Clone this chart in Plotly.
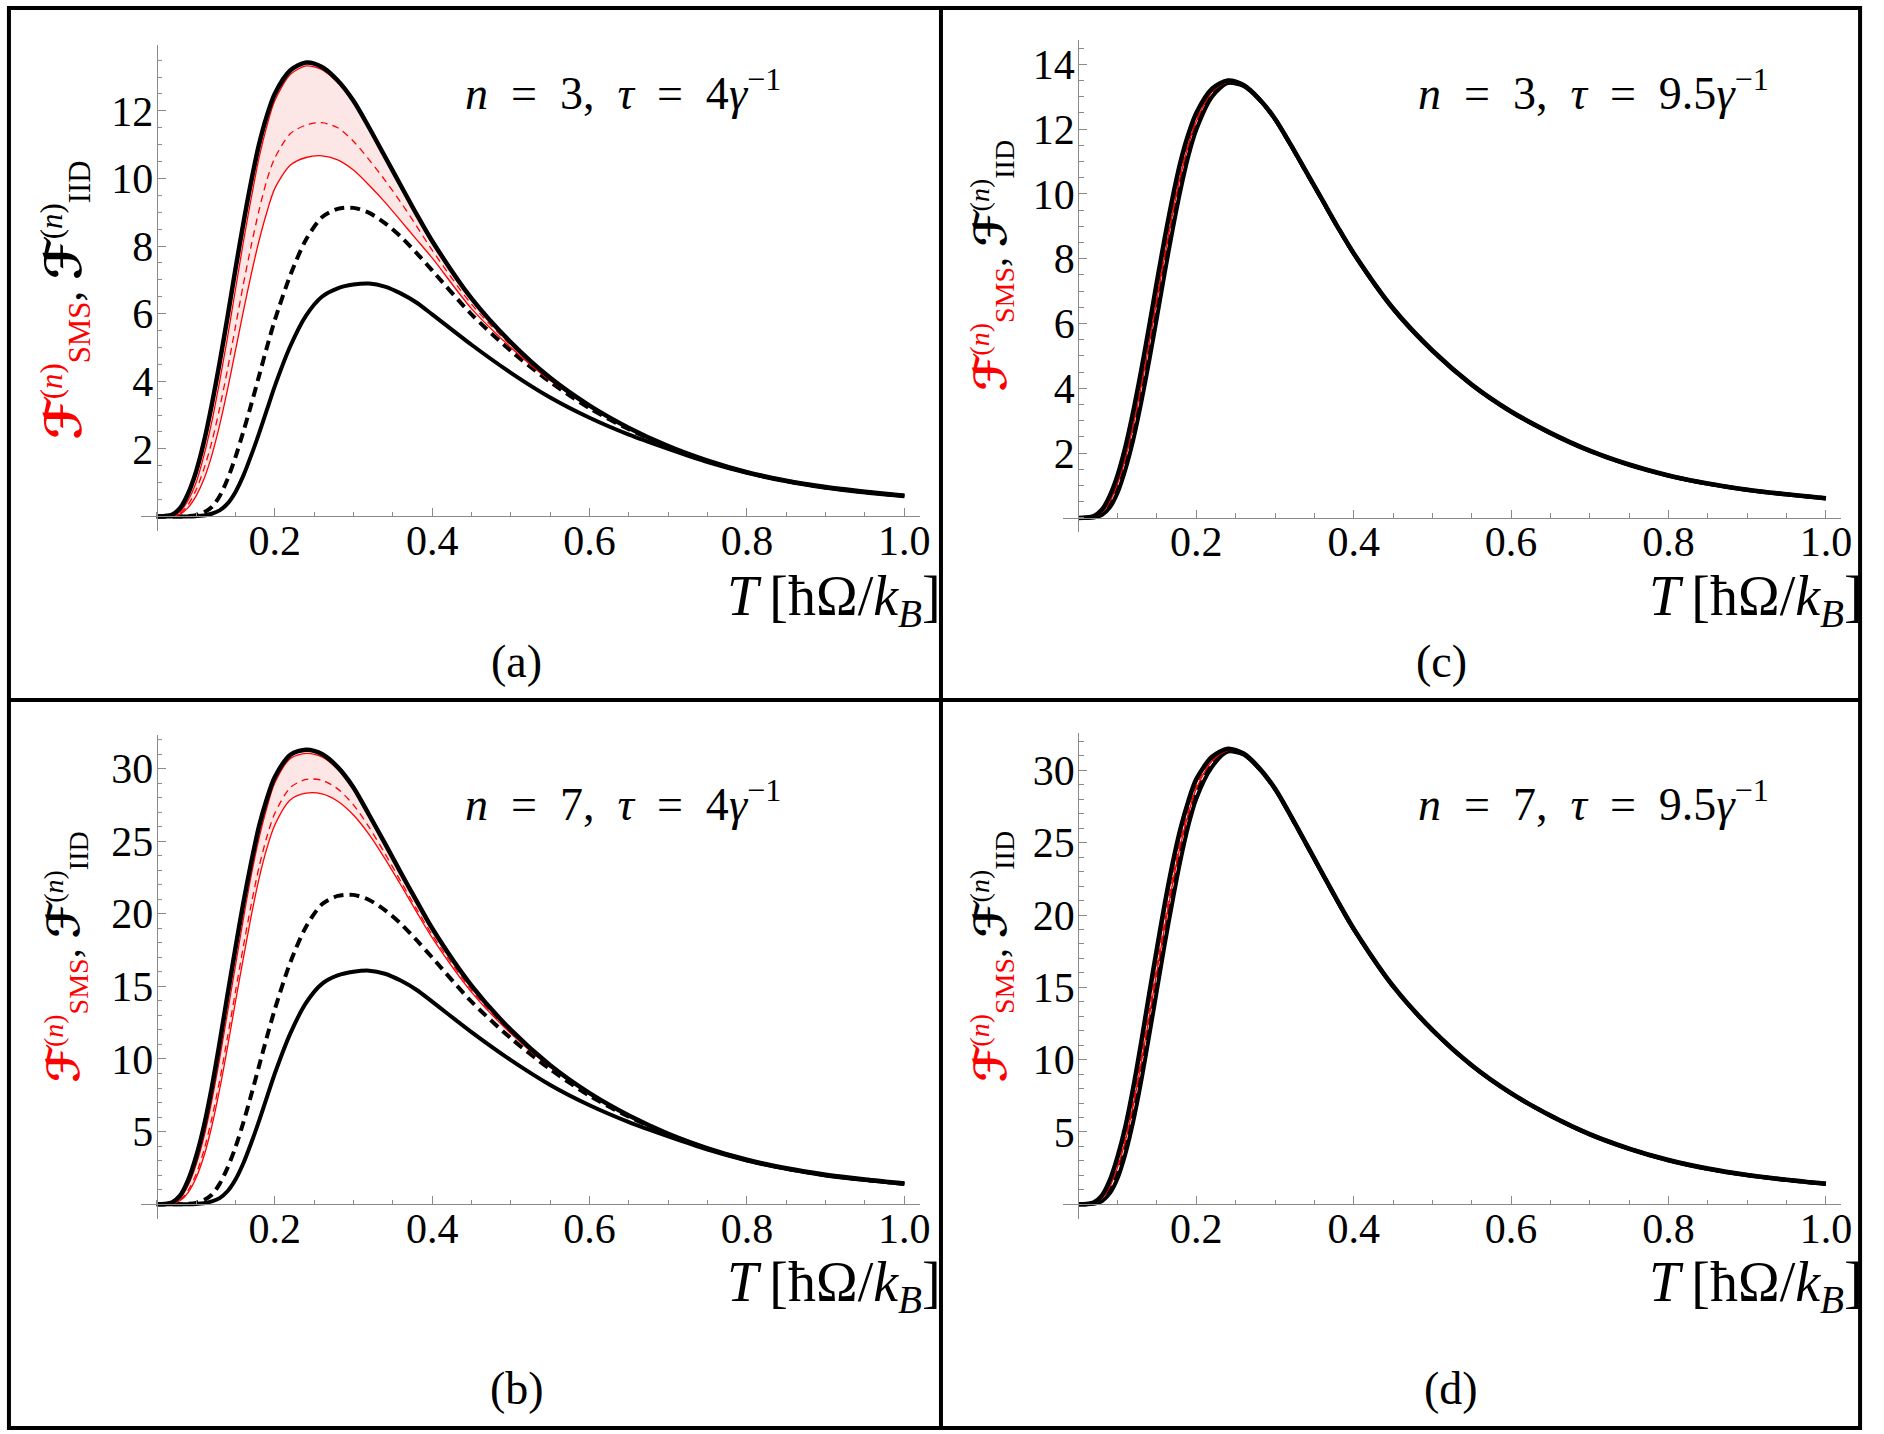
import plotly.graph_objects as go

# ---------------- data ----------------
T = [0.05, 0.06, 0.07, 0.08, 0.09, 0.10, 0.11, 0.12, 0.13, 0.14, 0.15, 0.16, 0.17, 0.18, 0.19, 0.20,
     0.22, 0.24, 0.26, 0.28, 0.30, 0.32, 0.34, 0.36, 0.38, 0.40,
     0.45, 0.50, 0.55, 0.60, 0.65, 0.70, 0.75, 0.80, 0.85, 0.90, 0.95, 1.00]

# panel (a): n = 3, tau = 4/gamma
a_black_upper = [0, 0.01, 0.06, 0.25, 0.68, 1.32, 2.2, 3.3, 4.55, 5.9, 7.3, 8.65, 9.9, 11.0, 11.85, 12.5,
                 13.2, 13.43, 13.3, 12.9, 12.3, 11.5, 10.65, 9.8, 8.95, 8.15,
                 6.45, 5.15, 4.1, 3.28, 2.62, 2.08, 1.65, 1.31, 1.06, 0.87, 0.73, 0.61]
a_red_upper = [0, 0.0, 0.03, 0.15, 0.48, 1.0, 1.8, 2.8, 4.0, 5.3, 6.7, 8.1, 9.4, 10.6, 11.55, 12.3,
               13.08, 13.33, 13.22, 12.84, 12.25, 11.46, 10.61, 9.77, 8.92, 8.12,
               6.43, 5.14, 4.1, 3.28, 2.62, 2.08, 1.65, 1.31, 1.06, 0.87, 0.73, 0.61]
a_red_dashed = [0, 0.0, 0.02, 0.1, 0.35, 0.78, 1.4, 2.2, 3.2, 4.35, 5.6, 6.85, 8.0, 9.05, 9.95, 10.6,
                11.33, 11.58, 11.65, 11.5, 11.1, 10.55, 9.95, 9.3, 8.6, 7.88,
                6.28, 5.07, 4.06, 3.26, 2.61, 2.07, 1.65, 1.31, 1.06, 0.87, 0.73, 0.61]
a_red_lower = [0, 0.0, 0.01, 0.07, 0.26, 0.6, 1.1, 1.8, 2.7, 3.75, 4.9, 6.05, 7.15, 8.15, 9.0, 9.7,
               10.4, 10.62, 10.67, 10.55, 10.25, 9.8, 9.3, 8.75, 8.2, 7.65,
               6.15, 5.0, 4.02, 3.24, 2.6, 2.07, 1.64, 1.31, 1.06, 0.87, 0.73, 0.61]
a_black_dashed = [0, 0, 0, 0, 0.01, 0.04, 0.12, 0.28, 0.6, 1.1, 1.75, 2.5, 3.3, 4.15, 5.0, 5.8,
                  7.15, 8.2, 8.85, 9.1, 9.13, 8.98, 8.68, 8.28, 7.8, 7.28,
                  5.98, 4.9, 3.98, 3.2, 2.58, 2.06, 1.64, 1.3, 1.05, 0.86, 0.72, 0.61]
a_black_lower = [0, 0, 0, 0, 0, 0.01, 0.03, 0.08, 0.18, 0.38, 0.72, 1.2, 1.8, 2.45, 3.15, 3.85,
                 5.05, 5.95, 6.5, 6.75, 6.86, 6.89, 6.8, 6.6, 6.33, 5.98,
                 5.08, 4.25, 3.52, 2.92, 2.42, 2.0, 1.61, 1.29, 1.04, 0.85, 0.71, 0.6]

# panel (b): n = 7, tau = 4/gamma
b_black_upper = [0, 0.02, 0.14, 0.6, 1.65, 3.25, 5.35, 8.0, 11.1, 14.4, 17.6, 20.7, 23.5, 26.0, 27.9, 29.4,
                 30.95, 31.3, 31.0, 30.1, 28.7, 26.8, 24.85, 22.85, 20.9, 19.0,
                 15.05, 12.0, 9.57, 7.65, 6.11, 4.85, 3.85, 3.06, 2.47, 2.03, 1.7, 1.42]
b_red_upper = [0, 0.01, 0.1, 0.45, 1.3, 2.7, 4.6, 7.1, 10.0, 13.2, 16.4, 19.6, 22.6, 25.2, 27.3, 29.0,
               30.7, 31.05, 30.8, 29.95, 28.55, 26.7, 24.75, 22.75, 20.8, 18.9,
               14.98, 11.95, 9.53, 7.63, 6.1, 4.84, 3.85, 3.06, 2.47, 2.03, 1.7, 1.42]
b_red_dashed = [0, 0.01, 0.06, 0.3, 0.95, 2.05, 3.7, 5.9, 8.5, 11.5, 14.6, 17.7, 20.6, 23.2, 25.3, 26.9,
                28.7, 29.25, 29.2, 28.6, 27.5, 25.95, 24.15, 22.25, 20.35, 18.55,
                14.75, 11.82, 9.47, 7.6, 6.09, 4.84, 3.84, 3.05, 2.46, 2.02, 1.69, 1.42]
b_red_lower = [0, 0.0, 0.05, 0.25, 0.8, 1.8, 3.3, 5.35, 7.9, 10.8, 13.9, 16.9, 19.8, 22.4, 24.5, 26.1,
               27.85, 28.3, 28.25, 27.75, 26.8, 25.45, 23.8, 22.0, 20.15, 18.35,
               14.6, 11.75, 9.43, 7.58, 6.08, 4.83, 3.84, 3.05, 2.46, 2.02, 1.69, 1.42]
b_black_dashed = [0, 0, 0, 0, 0.02, 0.09, 0.28, 0.65, 1.4, 2.5, 3.9, 5.6, 7.5, 9.5, 11.5, 13.4,
                  16.68, 19.13, 20.65, 21.23, 21.3, 20.95, 20.25, 19.32, 18.2, 16.99,
                  13.95, 11.43, 9.29, 7.47, 6.02, 4.81, 3.83, 3.03, 2.45, 2.0, 1.68, 1.41]
b_black_lower = [0, 0, 0, 0, 0, 0.02, 0.07, 0.19, 0.42, 0.89, 1.68, 2.8, 4.2, 5.72, 7.35, 8.98,
                 11.78, 13.88, 15.17, 15.75, 16.0, 16.08, 15.87, 15.4, 14.77, 13.95,
                 11.85, 9.92, 8.21, 6.81, 5.65, 4.67, 3.76, 3.01, 2.43, 1.98, 1.66, 1.4]

# panel (c): n = 3, tau = 9.5/gamma
c_black_upper = [0, 0.01, 0.06, 0.25, 0.68, 1.32, 2.2, 3.3, 4.55, 5.9, 7.3, 8.65, 9.9, 11.0, 11.85, 12.5,
                 13.25, 13.5, 13.36, 12.93, 12.32, 11.52, 10.67, 9.82, 8.97, 8.17,
                 6.47, 5.17, 4.12, 3.29, 2.63, 2.08, 1.65, 1.31, 1.06, 0.87, 0.73, 0.61]
c_red_upper = [0, 0.01, 0.05, 0.22, 0.61, 1.2, 2.05, 3.12, 4.35, 5.7, 7.08, 8.45, 9.72, 10.85, 11.73, 12.42,
               13.2, 13.47, 13.34, 12.92, 12.31, 11.51, 10.66, 9.81, 8.96, 8.16,
               6.46, 5.16, 4.11, 3.28, 2.62, 2.07, 1.64, 1.31, 1.06, 0.87, 0.73, 0.61]
c_red_dashed = [0, 0.005, 0.04, 0.19, 0.55, 1.12, 1.94, 2.98, 4.18, 5.5, 6.88, 8.25, 9.55, 10.7, 11.62, 12.32,
                13.17, 13.46, 13.34, 12.92, 12.31, 11.51, 10.66, 9.81, 8.96, 8.16,
                6.46, 5.16, 4.11, 3.28, 2.62, 2.07, 1.64, 1.31, 1.06, 0.87, 0.73, 0.61]
c_red_lower = [0, 0.005, 0.035, 0.17, 0.5, 1.06, 1.85, 2.86, 4.05, 5.36, 6.74, 8.1, 9.4, 10.56, 11.51, 12.24,
               13.15, 13.45, 13.34, 12.92, 12.31, 11.51, 10.66, 9.81, 8.96, 8.16,
               6.46, 5.16, 4.11, 3.28, 2.62, 2.07, 1.64, 1.31, 1.06, 0.87, 0.73, 0.61]
c_black_dashed = [0, 0.002, 0.025, 0.13, 0.41, 0.92, 1.67, 2.64, 3.8, 5.09, 6.46, 7.84, 9.15, 10.34, 11.34, 12.1,
                  13.08, 13.44, 13.34, 12.92, 12.31, 11.51, 10.66, 9.81, 8.96, 8.16,
                  6.46, 5.16, 4.11, 3.28, 2.62, 2.07, 1.64, 1.31, 1.06, 0.87, 0.73, 0.61]
c_black_lower = [0, 0, 0.015, 0.09, 0.32, 0.78, 1.5, 2.42, 3.55, 4.82, 6.18, 7.57, 8.9, 10.12, 11.17, 11.98,
                 13.0, 13.42, 13.33, 12.91, 12.3, 11.5, 10.65, 9.8, 8.95, 8.15,
                 6.45, 5.15, 4.1, 3.27, 2.61, 2.06, 1.63, 1.3, 1.05, 0.86, 0.72, 0.6]

# panel (d): n = 7, tau = 9.5/gamma
d_black_upper = [0, 0.02, 0.14, 0.6, 1.65, 3.3, 5.4, 8.1, 11.2, 14.5, 17.7, 20.8, 23.6, 26.0, 27.9, 29.4,
                 30.95, 31.5, 31.17, 30.17, 28.75, 26.88, 24.9, 22.91, 20.93, 19.06,
                 15.1, 12.06, 9.61, 7.68, 6.14, 4.85, 3.85, 3.06, 2.47, 2.03, 1.7, 1.42]
d_red_upper = [0, 0.02, 0.12, 0.52, 1.48, 3.0, 5.0, 7.6, 10.6, 13.9, 17.1, 20.2, 23.1, 25.6, 27.6, 29.2,
               30.85, 31.45, 31.12, 30.13, 28.72, 26.85, 24.87, 22.88, 20.9, 19.03,
               15.07, 12.04, 9.6, 7.67, 6.13, 4.84, 3.84, 3.05, 2.46, 2.02, 1.69, 1.41]
d_red_dashed = [0, 0.01, 0.09, 0.45, 1.32, 2.75, 4.65, 7.15, 10.1, 13.3, 16.5, 19.6, 22.6, 25.2, 27.3, 28.95,
                30.75, 31.4, 31.12, 30.13, 28.72, 26.85, 24.87, 22.88, 20.9, 19.03,
                15.07, 12.04, 9.6, 7.67, 6.13, 4.84, 3.84, 3.05, 2.46, 2.02, 1.69, 1.41]
d_red_lower = [0, 0.01, 0.08, 0.4, 1.2, 2.55, 4.4, 6.85, 9.75, 12.9, 16.1, 19.2, 22.2, 24.85, 27.0, 28.75,
               30.65, 31.38, 31.12, 30.13, 28.72, 26.85, 24.87, 22.88, 20.9, 19.03,
               15.07, 12.04, 9.6, 7.67, 6.13, 4.84, 3.84, 3.05, 2.46, 2.02, 1.69, 1.41]
d_black_dashed = [0, 0.005, 0.06, 0.3, 0.98, 2.2, 3.95, 6.3, 9.1, 12.2, 15.4, 18.6, 21.6, 24.4, 26.6, 28.4,
                  30.45, 31.34, 31.12, 30.13, 28.72, 26.85, 24.87, 22.88, 20.9, 19.03,
                  15.07, 12.04, 9.6, 7.67, 6.13, 4.84, 3.84, 3.05, 2.46, 2.02, 1.69, 1.41]
d_black_lower = [0, 0.0, 0.04, 0.21, 0.75, 1.8, 3.5, 5.75, 8.5, 11.6, 14.8, 18.0, 21.0, 23.8, 26.2, 28.05,
                 30.25, 31.3, 31.1, 30.11, 28.7, 26.83, 24.85, 22.86, 20.88, 19.01,
                 15.05, 12.02, 9.58, 7.65, 6.11, 4.82, 3.82, 3.03, 2.44, 2.0, 1.67, 1.4]

x_tick_vals = [0.2, 0.4, 0.6, 0.8, 1.0]
x_tick_text = ["0.2", "0.4", "0.6", "0.8", "1.0"]
y_ticks_a = [2, 4, 6, 8, 10, 12]
y_ticks_c = [2, 4, 6, 8, 10, 12, 14]
y_ticks_bd = [5, 10, 15, 20, 25, 30]

SP = "\u2002"
panel_titles = {
    "a": f"<i>n</i>{SP}={SP}3,{SP}<i>τ</i>{SP}={SP}4<i>γ</i><sup>−1</sup>",
    "b": f"<i>n</i>{SP}={SP}7,{SP}<i>τ</i>{SP}={SP}4<i>γ</i><sup>−1</sup>",
    "c": f"<i>n</i>{SP}={SP}3,{SP}<i>τ</i>{SP}={SP}9.5<i>γ</i><sup>−1</sup>",
    "d": f"<i>n</i>{SP}={SP}7,{SP}<i>τ</i>{SP}={SP}9.5<i>γ</i><sup>−1</sup>",
}
panel_letters = {"a": "(a)", "b": "(b)", "c": "(c)", "d": "(d)"}
x_title = "<i>T</i>\u2009[ħΩ/<i>k</i><sub><i>B</i></sub>]"


def y_title(fsize):
    f = f'<span style="font-family:DejaVu Sans;font-size:{fsize}px"><b>ℱ</b></span>'
    return (f'<span style="color:#ff0000">{f}<sup>(<i>n</i>)</sup><sub>SMS</sub></span>'
            f', {f}<sup>(<i>n</i>)</sup><sub>IID</sub>')


# ---------------- layout geometry (pixels of the 1884x1434 page) ----------------
W, H = 1884, 1434
SERIF = "Liberation Serif"
AXC = "#8a8a8a"
RED = "#ff0000"
PINK = "#fde6e6"
X_RANGE = [0.0303, 1.0194]

panels = [
    dict(key="a", sfx="", xpx=(142, 925), ypx=(44.6, 531), yr=(-0.43, 13.96), yt=y_ticks_a, ym=0.5,
         data=(a_black_upper, a_red_upper, a_red_dashed, a_red_lower, a_black_dashed, a_black_lower),
         title_xy=(466, 90), lab_xy=(520, 661), xt_xy=(949, 600), yt_xy=(66, 300), ysz=(44, 50)),
    dict(key="b", sfx="2", xpx=(142, 925), ypx=(735, 1219), yr=(-1.02, 32.31), yt=y_ticks_bd, ym=1,
         data=(b_black_upper, b_red_upper, b_red_dashed, b_red_lower, b_black_dashed, b_black_lower),
         title_xy=(466, 801), lab_xy=(520, 1388), xt_xy=(949, 1286), yt_xy=(66, 957), ysz=(40, 44)),
    dict(key="c", sfx="3", xpx=(1069, 1852), ypx=(40, 532), yr=(-0.435, 14.75), yt=y_ticks_c, ym=0.5,
         data=(c_black_upper, c_red_upper, c_red_dashed, c_red_lower, c_black_dashed, c_black_lower),
         title_xy=(1424, 90), lab_xy=(1450, 661), xt_xy=(1876, 600), yt_xy=(998, 266), ysz=(40, 44)),
    dict(key="d", sfx="4", xpx=(1069, 1852), ypx=(733, 1219), yr=(-1.02, 32.59), yt=y_ticks_bd, ym=1,
         data=(d_black_upper, d_red_upper, d_red_dashed, d_red_lower, d_black_dashed, d_black_lower),
         title_xy=(1424, 801), lab_xy=(1460, 1388), xt_xy=(1876, 1286), yt_xy=(998, 957), ysz=(40, 44)),
]

fig = go.Figure()
annotations = []
layout_axes = {}


def line(width, color, dash=None):
    d = dict(width=width, color=color, shape="spline", smoothing=0.8)
    if dash:
        d["dash"] = dash
    return d


for p in panels:
    xa, ya = "x" + p["sfx"], "y" + p["sfx"]
    bu, ru, rd, rl, bd, bl = p["data"]
    common = dict(x=T, xaxis=xa, yaxis=ya, mode="lines", showlegend=False, hoverinfo="skip")
    # pink band between the SMS bounds
    fig.add_trace(go.Scatter(y=rl, line=dict(width=0, color=RED, shape="spline", smoothing=0.8), **common))
    fig.add_trace(go.Scatter(y=ru, fill="tonexty", fillcolor=PINK,
                             line=dict(width=0, color=RED, shape="spline", smoothing=0.8), **common))
    fig.add_trace(go.Scatter(y=bl, line=line(4, "black"), **common))
    fig.add_trace(go.Scatter(y=bd, line=line(4, "black", "10px,6px"), **common))
    fig.add_trace(go.Scatter(y=rl, line=line(1.3, RED), **common))
    fig.add_trace(go.Scatter(y=rd, line=line(1.3, RED, "7px,5px"), **common))
    fig.add_trace(go.Scatter(y=ru, line=line(1.3, RED), **common))
    fig.add_trace(go.Scatter(y=bu, line=line(4.5, "black"), **common))

    xd = [p["xpx"][0] / W, p["xpx"][1] / W]
    yd = [1 - p["ypx"][1] / H, 1 - p["ypx"][0] / H]
    yr = list(p["yr"])
    xpos = yd[0] + (0 - yr[0]) / (yr[1] - yr[0]) * (yd[1] - yd[0])
    ypos = xd[0] + (0.05 - X_RANGE[0]) / (X_RANGE[1] - X_RANGE[0]) * (xd[1] - xd[0])

    tickfont = dict(family=SERIF, size=42, color="black")
    layout_axes["xaxis" + p["sfx"]] = dict(
        domain=xd, range=X_RANGE, anchor="free", position=xpos,
        showline=True, linecolor=AXC, linewidth=1, showgrid=False, zeroline=False,
        tickmode="array", tickvals=x_tick_vals, ticktext=x_tick_text,
        ticks="inside", ticklen=8, tickwidth=1, tickcolor=AXC, tickfont=tickfont,
        ticklabelstandoff=-13,
        minor=dict(tickmode="linear", tick0=0, dtick=0.05, ticks="inside", ticklen=4.5,
                   tickwidth=1, tickcolor=AXC, showgrid=False),
        fixedrange=True,
    )
    layout_axes["yaxis" + p["sfx"]] = dict(
        domain=yd, range=yr, anchor="free", position=ypos, side="left",
        showline=True, linecolor=AXC, linewidth=1, showgrid=False, zeroline=False,
        tickmode="array", tickvals=p["yt"], ticktext=[str(v) for v in p["yt"]],
        ticks="inside", ticklen=8, tickwidth=1, tickcolor=AXC, tickfont=tickfont,
        ticklabelstandoff=-5,
        minor=dict(tickmode="linear", tick0=0, dtick=p["ym"], ticks="inside", ticklen=4.5,
                   tickwidth=1, tickcolor=AXC, showgrid=False),
        fixedrange=True,
    )

    tx, ty = p["title_xy"]
    annotations.append(dict(text=panel_titles[p["key"]], x=tx / W, y=1 - ty / H, xref="paper", yref="paper",
                            xanchor="left", yanchor="middle", showarrow=False,
                            font=dict(family=SERIF, size=46, color="black")))
    lx, ly = p["lab_xy"]
    annotations.append(dict(text=panel_letters[p["key"]], x=lx / W, y=1 - ly / H, xref="paper", yref="paper",
                            xanchor="center", yanchor="middle", showarrow=False,
                            font=dict(family=SERIF, size=46, color="black")))
    ax_, ay_ = p["xt_xy"]
    annotations.append(dict(text=x_title, x=ax_ / W, y=1 - ay_ / H, xref="paper", yref="paper",
                            xanchor="right", yanchor="middle", showarrow=False,
                            font=dict(family=SERIF, size=56, color="black")))
    yx, yy = p["yt_xy"]
    base, fsz = p["ysz"]
    annotations.append(dict(text=y_title(fsz), x=yx / W, y=1 - yy / H, xref="paper", yref="paper",
                            xanchor="center", yanchor="middle", textangle=-90, showarrow=False,
                            font=dict(family=SERIF, size=base, color="black")))

# panel frame lines
frame = dict(type="line", xref="paper", yref="paper", line=dict(color="black", width=4))
L, R, TOP, BOT = 9 / W, 1871 / W, 1 - 8 / H, 1 - 1428 / H
shapes = [
    dict(type="rect", xref="paper", yref="paper", x0=L, x1=R, y0=BOT, y1=TOP,
         line=dict(color="black", width=4), fillcolor="rgba(0,0,0,0)"),
    dict(frame, x0=946.5 / W, x1=946.5 / W, y0=BOT, y1=TOP),
    dict(frame, x0=L, x1=R, y0=1 - 700 / H, y1=1 - 700 / H),
]

fig.update_layout(
    width=W, height=H, margin=dict(l=0, r=0, t=0, b=0),
    paper_bgcolor="white", plot_bgcolor="rgba(0,0,0,0)",
    annotations=annotations, shapes=shapes, showlegend=False,
    **layout_axes,
)

fig.write_html("out.html")
